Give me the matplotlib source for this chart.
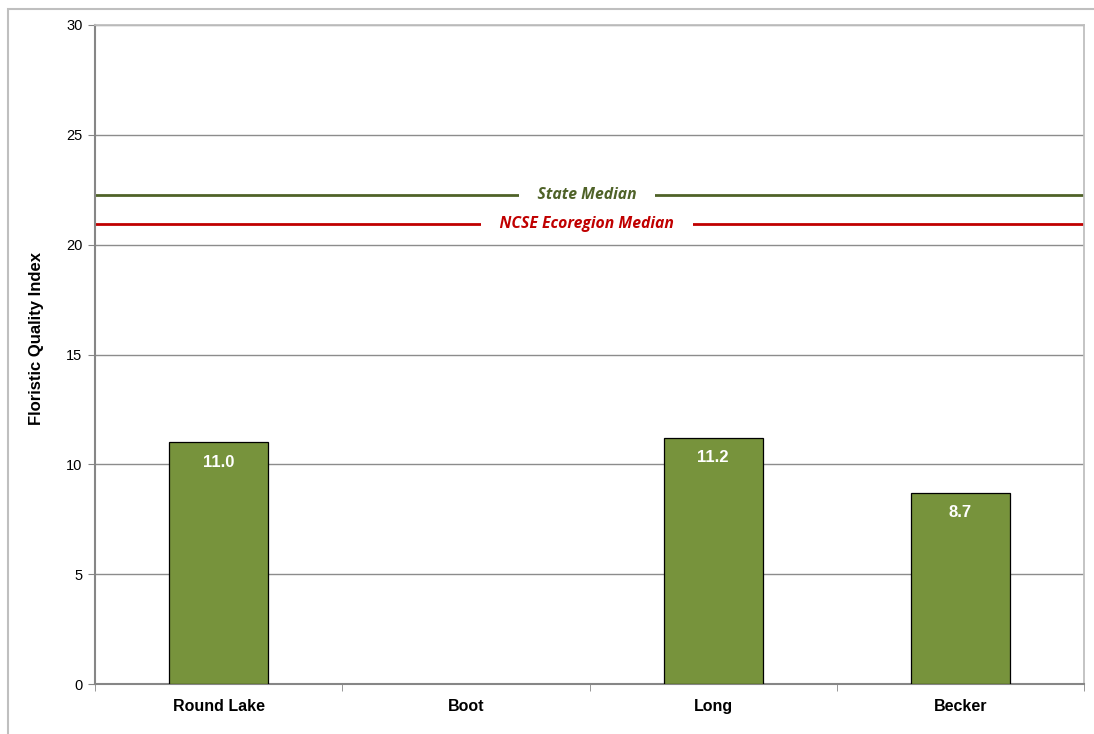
import matplotlib
matplotlib.use("Agg")
import matplotlib.pyplot as plt
from matplotlib.patches import Rectangle

categories = ["Round Lake", "Boot", "Long", "Becker"]
values = [11.0, None, 11.2, 8.7]
labels = ["11.0", "", "11.2", "8.7"]
state_median = 22.25
eco_median = 20.95
yticks = [0, 5, 10, 15, 20, 25, 30]

plt.rcParams['font.family'] = ['Liberation Sans', 'DejaVu Sans']

fig = plt.figure(figsize=(10.94, 7.34), dpi=100)
ax = fig.add_axes([95/1094, 1-684/734, (1084-95)/1094, (684-25)/734])

# outer chart border
fig.add_artist(Rectangle((8/1094, -0.05), 1.2, (734-9)/734 + 0.05, transform=fig.transFigure,
                         fill=False, edgecolor='#BFBFBF', linewidth=1.5))

xs = list(range(len(categories)))
for x, v, lab in zip(xs, values, labels):
    if v is None:
        continue
    ax.bar(x, v, width=0.4, color='#77933C', edgecolor='black', linewidth=0.9, zorder=3)
    ax.text(x, v - 0.9, lab, ha='center', va='center', color='white',
            fontsize=12, fontweight='bold', zorder=4)

ax.set_xlim(-0.5, len(categories) - 0.5)
ax.set_ylim(0, 30)
ax.set_yticks(yticks)
ax.set_yticklabels([str(t) for t in yticks], fontsize=10.5)
ax.set_xticks(xs)
ax.set_xticklabels(categories, fontsize=11.5, fontweight='bold')
ax.set_xticks([i - 0.5 for i in range(len(categories) + 1)], minor=True)
ax.tick_params(axis='x', which='major', length=0, pad=11)
ax.tick_params(axis='x', which='minor', length=5, color='#868686', direction='out')
ax.tick_params(axis='y', length=5, color='#868686', direction='out', pad=4)

ax.yaxis.grid(True, color='#8C8C8C', linewidth=1.0, zorder=0)
ax.set_axisbelow(True)
for s in ['left', 'bottom']:
    ax.spines[s].set_color('#868686')
    ax.spines[s].set_linewidth(1.5)
for s in ['right', 'top']:
    ax.spines[s].set_color('#BFBFBF')
    ax.spines[s].set_linewidth(1.3)

ax.set_ylabel('Floristic Quality Index', fontsize=12, fontweight='bold')
ax.yaxis.set_label_coords(-0.0516, 0.525)

# median lines with labels
ax.axhline(state_median, color='#4F6228', linewidth=2, zorder=2)
ax.axhline(eco_median, color='#C00000', linewidth=2, zorder=2)
ax.text(1.49, state_median, '    State Median    ', ha='center', va='center', color='#4F6228',
        fontsize=11.3, fontstyle='italic', fontweight='bold', family=['Open Sans', 'DejaVu Sans'],
        bbox=dict(facecolor='white', edgecolor='none', pad=1.5), zorder=5)
ax.text(1.49, eco_median, '    NCSE Ecoregion Median    ', ha='center', va='center', color='#C00000',
        fontsize=11.3, fontstyle='italic', fontweight='bold', family=['Open Sans', 'DejaVu Sans'],
        bbox=dict(facecolor='white', edgecolor='none', pad=1.5), zorder=5)

fig.savefig('out.png', dpi=100)
